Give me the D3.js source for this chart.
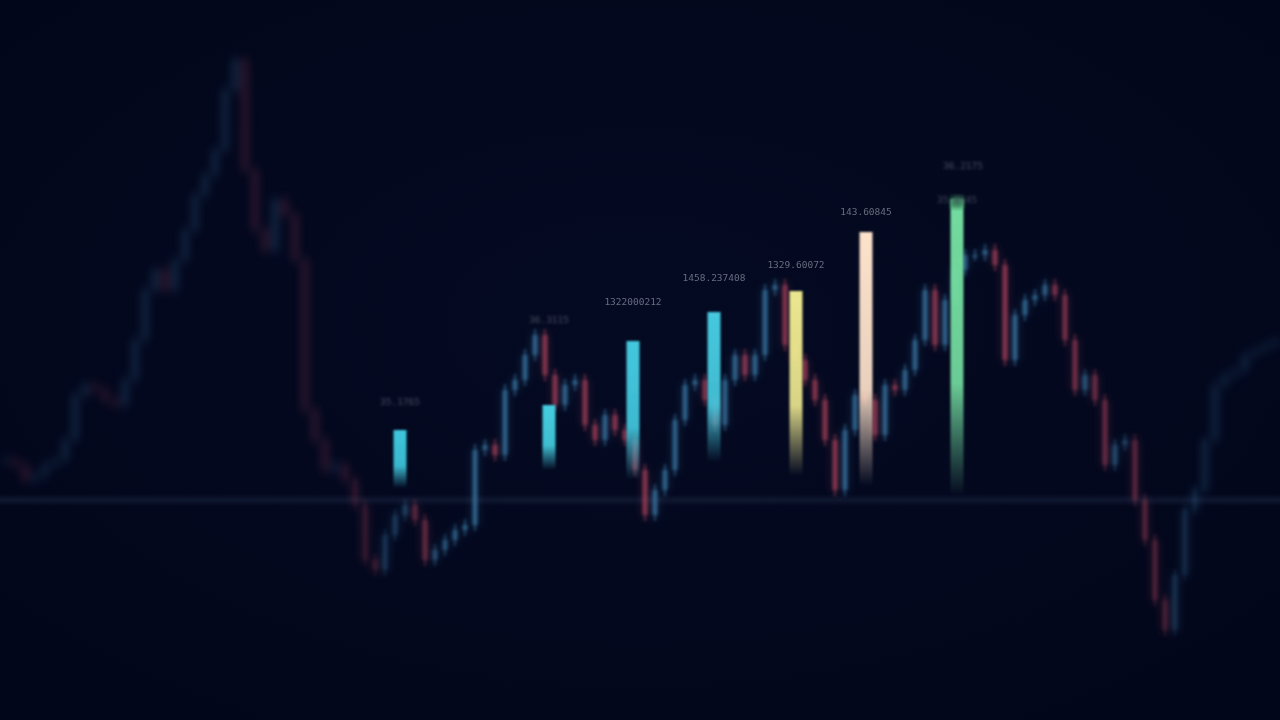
<!DOCTYPE html>
<html><head><meta charset="utf-8">
<script src="https://cdn.jsdelivr.net/npm/d3@7"></script>
<style>html,body{margin:0;padding:0;background:#030820;overflow:hidden}svg{display:block}</style>
</head><body>
<svg id="c" width="1280" height="720"></svg>
<script>
// Close prices per candle (arbitrary price units)
const closes = [260,255,240,245,255,260,280,325,335,330,320,315,340,380,430,450,430,460,490,525,545,570,630,660,550,490,470,520,505,460,310,280,250,255,240,215,160,150,185,205,215,200,160,170,180,190,195,270,275,265,330,340,365,385,345,315,335,340,295,280,305,290,280,250,205,230,250,300,335,340,320,295,340,365,345,365,430,435,375,360,340,320,280,230,290,325,320,285,335,330,350,380,430,375,420,450,465,465,470,455,360,405,420,425,435,425,380,330,345,320,255,275,280,220,180,120,90,145,210,230,280,335,345,350,365,370,375,380];
// Highlighted bars
const barPos    = [39.5, 54.4, 62.8, 70.9, 79.1, 86.1, 95.2];   // time index
const barValues = [290, 315, 379, 408, 429, 488, 521];
const barBase   = [232, 250, 240, 258, 244, 234, 224];
const barColors = ["#3fc6dc","#45cde0","#43c8de","#46c9df","#ebe68e","#fde2cb","#73dc9f"];
const barLabels = ["35.1765","36.3115","1322000212","1458.237408","1329.60072","143.60845","36.2175"];
const extraLabel = "35.0145";
const baselineValue = 220;

const svg = d3.select("#c");
const W = 1280, H = 720;
const x = d3.scaleLinear().domain([0, closes.length - 1]).range([5, 1275]);
const y = d3.scaleLinear().domain([0, 720]).range([720, 0]);

const defs = svg.append("defs");
const bg = defs.append("radialGradient").attr("id","bg").attr("cx","50%").attr("cy","45%").attr("r","75%");
bg.append("stop").attr("offset","0%").attr("stop-color","#040a22");
bg.append("stop").attr("offset","100%").attr("stop-color","#02061a");
svg.append("rect").attr("width",W).attr("height",H).attr("fill","url(#bg)");

[["blurBig",4.5],["blurMid",2],["blurSmall",1.4],["blurText",1.8],["blurLbl",0.6],["blurBar",0.8]].forEach(([id,s])=>{
  defs.append("filter").attr("id",id).attr("x","-20%").attr("y","-20%").attr("width","140%").attr("height","140%")
    .append("feGaussianBlur").attr("stdDeviation",s);
});

const mg = defs.append("linearGradient").attr("id","mg").attr("gradientUnits","userSpaceOnUse")
  .attr("x1",0).attr("x2",W).attr("y1",0).attr("y2",0);
[[0,0],[340,0],[470,1],[1030,1],[1150,0.5],[1210,0],[1280,0]].forEach(([o,v])=>{
  mg.append("stop").attr("offset",o/W).attr("stop-color","#fff").attr("stop-opacity",v);
});
defs.append("mask").attr("id","focus").append("rect").attr("width",W).attr("height",H).attr("fill","url(#mg)");

// baseline (soft band)
const bl = defs.append("linearGradient").attr("id","bl").attr("x1",0).attr("x2",0).attr("y1",0).attr("y2",1);
[[0,0],[0.5,1],[1,0]].forEach(([o,v])=>bl.append("stop").attr("offset",o).attr("stop-color","#0f1730").attr("stop-opacity",v));
svg.append("rect").attr("x",0).attr("width",W).attr("y",y(baselineValue)-6).attr("height",12).attr("fill","url(#bl)");

const candles = closes.map((c,i)=>({i, open: i===0 ? c : closes[i-1], close: c}));
const up = "#3b7aa6", down = "#a8435a";
function drawCandles(g, bodyW){
  g.selectAll("line.w").data(candles).join("line").attr("class","w")
    .attr("x1",d=>x(d.i)).attr("x2",d=>x(d.i))
    .attr("y1",d=>y(Math.max(d.open,d.close)+6)).attr("y2",d=>y(Math.min(d.open,d.close)-6))
    .attr("stroke",d=>d.close>=d.open?up:down).attr("stroke-width",1.5);
  g.selectAll("rect.b").data(candles).join("rect").attr("class","b")
    .attr("x",d=>x(d.i)-bodyW/2).attr("width",bodyW)
    .attr("y",d=>y(Math.max(d.open,d.close))).attr("height",d=>Math.max(2,Math.abs(y(d.open)-y(d.close))))
    .attr("fill",d=>d.close>=d.open?up:down);
}
const gb = svg.append("g").attr("filter","url(#blurBig)").attr("opacity",0.3);
drawCandles(gb, 6);
const gf = svg.append("g").attr("mask","url(#focus)").append("g").attr("filter","url(#blurSmall)").attr("opacity",0.7);
drawCandles(gf, 5);

// bars
const bw = 13;
const bars = barValues.map((v,k)=>({k, v, base: barBase[k], pos: barPos[k], color: barColors[k], label: barLabels[k]}));
bars.forEach(d=>{
  const g = defs.append("linearGradient").attr("id","bg"+d.k).attr("x1",0).attr("x2",0).attr("y1",0).attr("y2",1);
  g.append("stop").attr("offset","0%").attr("stop-color",d.color).attr("stop-opacity",1);
  g.append("stop").attr("offset","62%").attr("stop-color",d.color).attr("stop-opacity",0.92);
  g.append("stop").attr("offset","100%").attr("stop-color",d.color).attr("stop-opacity",0);
});
const gBars = svg.append("g").attr("filter","url(#blurBar)");
gBars.selectAll("rect").data(bars).join("rect")
  .attr("x",d=>x(d.pos)-bw/2).attr("width",bw)
  .attr("y",d=>y(d.v)).attr("height",d=>y(d.base)-y(d.v))
  .attr("fill",d=>"url(#bg"+d.k+")");
const last = bars[bars.length-1];
svg.append("rect").attr("x",x(last.pos)-bw/2).attr("width",bw).attr("y",y(last.v)-3).attr("height",12)
  .attr("fill","#2f6e50").attr("opacity",0.8).attr("filter","url(#blurMid)");

// labels
const sharp = [false,false,true,true,true,true,false];
const labelGap = [25, 82, 36, 31, 23, 17, 30];
svg.append("g").selectAll("text").data(bars).join("text")
  .attr("x",d=>x(d.pos)+(d.k===6?6:0)).attr("y",d=>y(d.v)-labelGap[d.k])
  .attr("text-anchor","middle").attr("font-family","'DejaVu Sans Mono', monospace").attr("font-size",9.5)
  .attr("fill",d=>sharp[d.k]?"#676c7e":"#4a5062")
  .attr("filter",d=>sharp[d.k]?"url(#blurLbl)":"url(#blurText)")
  .text(d=>d.label);
svg.append("text").attr("x",x(last.pos)).attr("y",y(last.v)+4).attr("text-anchor","middle")
  .attr("font-family","'DejaVu Sans Mono', monospace").attr("font-size",9.5).attr("fill","#434a5c")
  .attr("filter","url(#blurText)").text(extraLabel);
</script>
</body></html>
